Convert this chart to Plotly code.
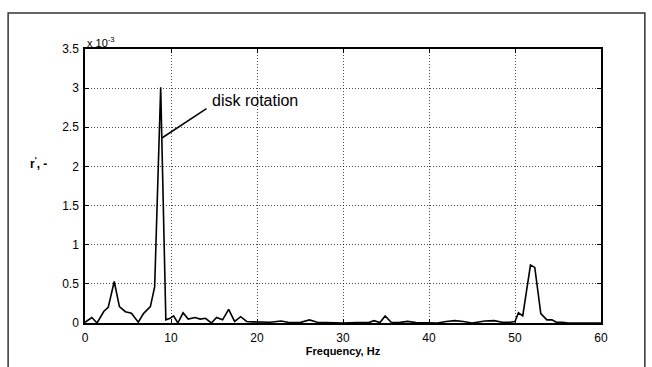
import plotly.graph_objects as go

freq = [0.0, 0.8, 1.4, 2.2, 2.7, 3.4, 4.0, 4.7, 5.4, 6.2, 6.8, 7.6, 8.1, 8.8, 9.4, 9.9, 10.3, 10.8, 11.4,
        12.0, 12.8, 13.4, 14.0, 14.7, 15.3, 16.0, 16.7, 17.4, 18.1, 18.8, 19.5, 20.5, 21.5, 22.8, 23.6,
        25.0, 26.1, 27.0, 28.5, 30.0, 31.5, 33.0, 33.6, 34.3, 34.9, 35.6, 36.5, 37.5, 38.5, 40.0, 41.0,
        42.0, 43.0, 44.0, 45.0, 46.5, 47.6, 48.5, 49.4, 50.0, 50.4, 50.9, 51.8, 52.3, 53.0, 53.7, 54.3,
        54.8, 55.5, 56.2, 57.0, 58.0, 59.0, 60.0]
r2 = [0.01, 0.07, 0.0, 0.15, 0.2, 0.53, 0.21, 0.145, 0.125, 0.01, 0.12, 0.21, 0.46, 3.01, 0.04, 0.06,
      0.09, 0.0, 0.13, 0.05, 0.07, 0.05, 0.06, 0.0, 0.07, 0.04, 0.175, 0.02, 0.08, 0.02, 0.015, 0.01,
      0.01, 0.025, 0.01, 0.005, 0.04, 0.01, 0.005, 0.0, 0.005, 0.005, 0.03, 0.005, 0.09, 0.01, 0.005,
      0.02, 0.005, 0.0, 0.0, 0.02, 0.03, 0.02, 0.0, 0.025, 0.03, 0.01, 0.01, 0.02, 0.13, 0.09, 0.74,
      0.71, 0.12, 0.04, 0.04, 0.01, 0.01, 0.0, 0.0, 0.0, 0.0, 0.0]

x_ticks = [0, 10, 20, 30, 40, 50, 60]
y_ticks = [0, 0.5, 1, 1.5, 2, 2.5, 3, 3.5]
y_tick_text = ["0", "0.5", "1", "1.5", "2", "2.5", "3", "3.5"]

FONT = "Liberation Sans, Arial"

fig = go.Figure()
fig.add_trace(go.Scatter(x=freq, y=r2, mode="lines",
                         line=dict(color="black", width=1.6), showlegend=False))

axis_common = dict(showline=True, linecolor="black", linewidth=1.5, mirror="ticks",
                   ticks="inside", ticklen=4, tickcolor="black",
                   showgrid=True, gridcolor="rgba(0,0,0,0.7)", gridwidth=1,
                   griddash="1px,2px", zeroline=False,
                   tickfont=dict(family=FONT, size=12, color="black"))

fig.update_xaxes(range=[0, 60], tickvals=x_ticks, ticklabelstandoff=3, **axis_common,
                 title=dict(text="<b>Frequency, Hz</b>",
                            font=dict(family=FONT, size=11, color="black"),
                            standoff=0))
fig.update_yaxes(range=[0, 3.5], tickvals=y_ticks, ticktext=y_tick_text,
                 ticklabelstandoff=2, **axis_common)

fig.add_annotation(x=8.9, y=2.36, ax=14.3, ay=2.75, axref="x", ayref="y",
                   showarrow=True, arrowhead=0, arrowwidth=1.5, arrowcolor="black", text="")
fig.add_annotation(x=14.5, y=2.84, text="disk rotation", showarrow=False,
                   xanchor="left", yanchor="middle",
                   font=dict(family=FONT, size=16, color="black"))
fig.add_annotation(x=0, y=1.0, xref="paper", yref="paper", xanchor="left", yanchor="bottom",
                   text="x 10<sup>-3</sup>", showarrow=False, yshift=-2,
                   font=dict(family=FONT, size=11, color="black"))
fig.add_annotation(x=-0.09, y=0.585, xref="paper", yref="paper", xanchor="center",
                   yanchor="middle", text="<b>r<sup>'</sup>, -</b>", showarrow=False,
                   font=dict(family=FONT, size=12, color="black"))

fig.add_shape(type="rect", xref="paper", yref="paper", x0=-0.149, x1=1.085, y0=-0.2, y1=1.131,
              line=dict(color="#333", width=1.5), layer="above")

fig.update_layout(width=652, height=367, margin=dict(l=85, r=51, t=49, b=44),
                  paper_bgcolor="white", plot_bgcolor="white")

fig.write_html("out.html")
